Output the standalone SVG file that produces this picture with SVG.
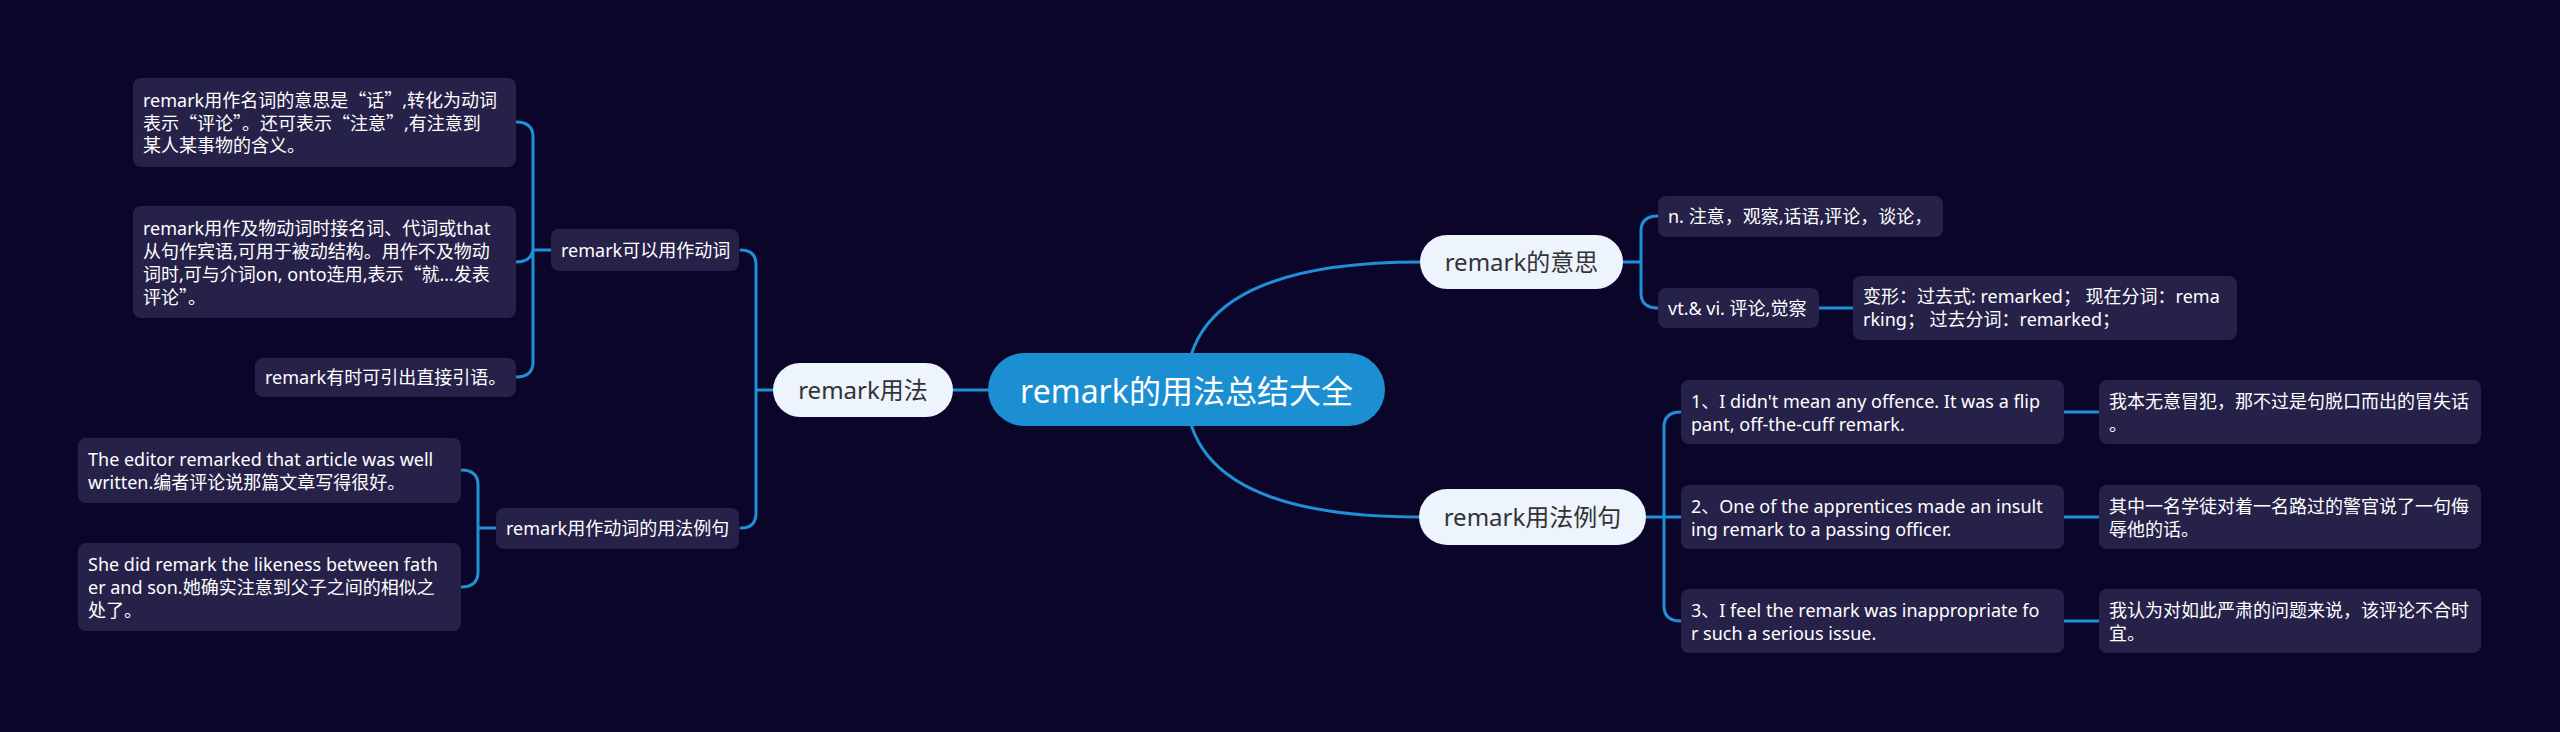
<svg xmlns="http://www.w3.org/2000/svg" width="2560" height="732" viewBox="0 0 2560 732">
<style>
text{font-family:"Noto Sans","Noto Sans CJK SC",sans-serif;}
.q{font-family:"Noto Sans CJK SC",sans-serif;}
.bg{fill:#0b0629;}
.c{fill:none;stroke:#1f8fd6;stroke-width:3;stroke-linecap:round;}
.box{fill:#262148;}
.t{fill:#ffffff;font-size:18px;}
.l2{fill:#edf4fd;}
.t2{fill:#333333;font-size:24px;text-anchor:middle;}
.root{fill:#1b8fd2;}
.tr{fill:#ffffff;font-size:32px;text-anchor:middle;}
</style>
<rect class="bg" x="0" y="0" width="2560" height="732"/>
<g id="connectors">
<path class="c" d="M953 390 H990"/>
<path class="c" d="M1186 390 Q1186 262 1420 262"/>
<path class="c" d="M1186 390 Q1186 517 1420 517"/>
<path class="c" d="M773 390 H756 M741 250 Q756 250 756 265 V513 Q756 528 741 528"/>
<path class="c" d="M551 250 H533 M516 122 Q533 122 533 137 V362 Q533 377 516 377 M516 262 Q533 262 533 247"/>
<path class="c" d="M496 528 H478 M461 470 Q478 470 478 485 V572 Q478 587 461 587"/>
<path class="c" d="M1623 262 H1641 M1658 216 Q1641 216 1641 231 V293 Q1641 308 1658 308"/>
<path class="c" d="M1819 308 H1853"/>
<path class="c" d="M1646 517 H1681 M1681 412 Q1664 412 1664 427 V606 Q1664 621 1681 621"/>
<path class="c" d="M2064 412 H2099 M2064 517 H2099 M2064 621 H2099"/>
</g>
<g id="root">
<rect class="root" x="988" y="353" width="397" height="73" rx="36.5"/>
<text class="tr" x="1186.5" y="403">remark的用法总结大全</text>
</g>
<g id="n-usage">
<rect class="l2" x="773" y="363" width="180" height="54" rx="27"/>
<text class="t2" x="863" y="398.5">remark用法</text>
</g>
<g id="n-verb">
<rect class="box" x="551" y="229" width="188" height="42" rx="8"/>
<text class="t" x="561" y="256.5">remark可以用作动词</text>
</g>
<g id="n-verb-1">
<rect class="box" x="133" y="78" width="383" height="89" rx="8"/>
<text class="t"><tspan x="143" y="107">remark用作名词的意思是<tspan class="q">“</tspan>话<tspan class="q">”</tspan>,转化为动词</tspan><tspan x="143" y="130">表示<tspan class="q">“</tspan>评论<tspan class="q">”</tspan>。还可表示<tspan class="q">“</tspan>注意<tspan class="q">”</tspan>,有注意到</tspan><tspan x="143" y="152">某人某事物的含义。</tspan></text>
</g>
<g id="n-verb-2">
<rect class="box" x="133" y="206" width="383" height="112" rx="8"/>
<text class="t"><tspan x="143" y="235">remark用作及物动词时接名词、代词或that</tspan><tspan x="143" y="258">从句作宾语,可用于被动结构。用作不及物动</tspan><tspan x="143" y="281">词时,可与介词on, onto连用,表示<tspan class="q">“</tspan>就…发表</tspan><tspan x="143" y="304">评论<tspan class="q">”</tspan>。</tspan></text>
</g>
<g id="n-verb-3">
<rect class="box" x="255" y="358" width="261" height="39" rx="8"/>
<text class="t" x="265" y="384">remark有时可引出直接引语。</text>
</g>
<g id="n-ex">
<rect class="box" x="496" y="508" width="243" height="41" rx="8"/>
<text class="t" x="506" y="535">remark用作动词的用法例句</text>
</g>
<g id="n-ex-1">
<rect class="box" x="78" y="438" width="383" height="65" rx="8"/>
<text class="t"><tspan x="88" y="466">The editor remarked that article was well</tspan><tspan x="88" y="489">written.编者评论说那篇文章写得很好。</tspan></text>
</g>
<g id="n-ex-2">
<rect class="box" x="78" y="543" width="383" height="88" rx="8"/>
<text class="t"><tspan x="88" y="571">She did remark the likeness between fath</tspan><tspan x="88" y="594">er and son.她确实注意到父子之间的相似之</tspan><tspan x="88" y="617">处了。</tspan></text>
</g>
<g id="n-meaning">
<rect class="l2" x="1420" y="235" width="203" height="54" rx="27"/>
<text class="t2" x="1521.5" y="270.5">remark的意思</text>
</g>
<g id="n-meaning-n">
<rect class="box" x="1658" y="196" width="285" height="41" rx="8"/>
<text class="t" x="1668" y="223">n. 注意，观察,话语,评论，谈论，</text>
</g>
<g id="n-meaning-v">
<rect class="box" x="1658" y="288" width="161" height="40" rx="8"/>
<text class="t" x="1668" y="314.5">vt.&amp; vi. 评论,觉察</text>
</g>
<g id="n-forms">
<rect class="box" x="1853" y="276" width="384" height="64" rx="8"/>
<text class="t"><tspan x="1863" y="303">变形：过去式: remarked； 现在分词：rema</tspan><tspan x="1863" y="326">rking； 过去分词：remarked；</tspan></text>
</g>
<g id="n-examples">
<rect class="l2" x="1419" y="489" width="227" height="56" rx="28"/>
<text class="t2" x="1532.5" y="525.5">remark用法例句</text>
</g>
<g id="n-r1">
<rect class="box" x="1681" y="380" width="383" height="64" rx="8"/>
<text class="t"><tspan x="1691" y="408">1、I didn't mean any offence. It was a flip</tspan><tspan x="1691" y="431">pant, off-the-cuff remark.</tspan></text>
</g>
<g id="n-r1-cn">
<rect class="box" x="2099" y="380" width="382" height="64" rx="8"/>
<text class="t"><tspan x="2109" y="408">我本无意冒犯，那不过是句脱口而出的冒失话</tspan><tspan x="2109" y="431">。</tspan></text>
</g>
<g id="n-r2">
<rect class="box" x="1681" y="485" width="383" height="64" rx="8"/>
<text class="t"><tspan x="1691" y="513">2、One of the apprentices made an insult</tspan><tspan x="1691" y="536">ing remark to a passing officer.</tspan></text>
</g>
<g id="n-r2-cn">
<rect class="box" x="2099" y="485" width="382" height="64" rx="8"/>
<text class="t"><tspan x="2109" y="513">其中一名学徒对着一名路过的警官说了一句侮</tspan><tspan x="2109" y="536">辱他的话。</tspan></text>
</g>
<g id="n-r3">
<rect class="box" x="1681" y="589" width="383" height="64" rx="8"/>
<text class="t"><tspan x="1691" y="617">3、I feel the remark was inappropriate fo</tspan><tspan x="1691" y="640">r such a serious issue.</tspan></text>
</g>
<g id="n-r3-cn">
<rect class="box" x="2099" y="589" width="382" height="64" rx="8"/>
<text class="t"><tspan x="2109" y="617">我认为对如此严肃的问题来说，该评论不合时</tspan><tspan x="2109" y="640">宜。</tspan></text>
</g>
</svg>
